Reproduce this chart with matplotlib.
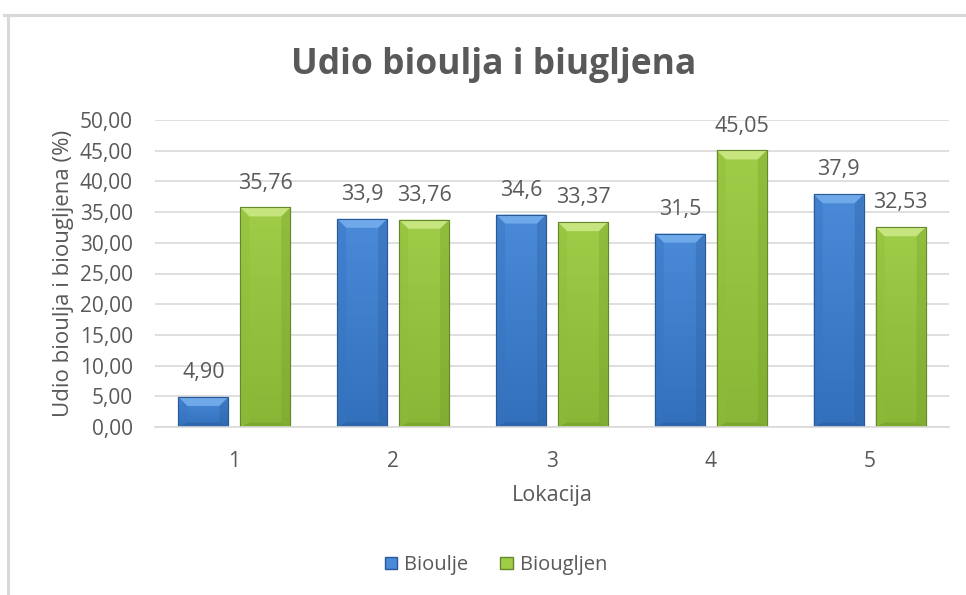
import numpy as np
import matplotlib
matplotlib.use("Agg")
import matplotlib.pyplot as plt
from matplotlib.patches import Polygon, Rectangle
from matplotlib.lines import Line2D

# Chart data
locations = ["1", "2", "3", "4", "5"]
bioulje = [4.90, 33.9, 34.6, 31.5, 37.9]
biougljen = [35.76, 33.76, 33.37, 45.05, 32.53]
bioulje_labels = ["4,90", "33,9", "34,6", "31,5", "37,9"]
biougljen_labels = ["35,76", "33,76", "33,37", "45,05", "32,53"]
y_ticks = [0, 5, 10, 15, 20, 25, 30, 35, 40, 45, 50]

plt.rcParams["font.family"] = ["Open Sans", "DejaVu Sans"]
text_color = "#595959"
grid_color = "#d9d9d9"

# colours: (top bevel, body top, body bottom, bottom bevel, side, edge)
blue = ("#6fa9ea", "#4a8ad8", "#3270bc", "#2c5f9f", "#3774c0", "#2a5a96")
green = ("#c6e57f", "#9fcd48", "#88b636", "#76a02c", "#8fbd3a", "#64882a")

fig = plt.figure(figsize=(9.66, 5.95), dpi=100)
ax = fig.add_axes([155 / 966, 1 - 427 / 595, (949 - 155) / 966, (427 - 120) / 595])

x = np.arange(len(locations))
width = 0.315
offset = 0.195

ax.set_xlim(-0.5, len(locations) - 0.5)
ax.set_ylim(0, 50)

bars_b = ax.bar(x - offset, bioulje, width, color=blue[1], edgecolor=blue[5], linewidth=0.8, zorder=2)
bars_g = ax.bar(x + offset, biougljen, width, color=green[1], edgecolor=green[5], linewidth=0.8, zorder=2)

# pixel sizes to data units for the bevel look
fig.canvas.draw()
bbox = ax.get_window_extent()
px_x = (len(locations)) / bbox.width
px_y = 50 / bbox.height
bevel = 9


def style_bar(rect, cols):
    x0, w, h = rect.get_x(), rect.get_width(), rect.get_height()
    x1 = x0 + w
    bx = bevel * px_x
    by = min(bevel * px_y, h / 3)
    by_low = by * 0.5
    # vertical gradient on the body
    grad = np.linspace(0, 1, 64).reshape(-1, 1)
    c_top = np.array(matplotlib.colors.to_rgb(cols[1]))
    c_bot = np.array(matplotlib.colors.to_rgb(cols[2]))
    img = c_top * (1 - grad[..., None]) + c_bot * grad[..., None]
    im = ax.imshow(img, extent=(x0, x1, 0, h), origin="upper", aspect="auto", zorder=2.1)
    im.set_clip_path(rect)
    # bevels
    ax.add_patch(Polygon([(x0, h), (x1, h), (x1 - bx, h - by), (x0 + bx, h - by)],
                         closed=True, facecolor=cols[0], edgecolor="none", zorder=2.2))
    ax.add_patch(Polygon([(x0, 0), (x1, 0), (x1 - bx, by_low), (x0 + bx, by_low)],
                         closed=True, facecolor=cols[3], edgecolor="none", alpha=0.6, zorder=2.2))
    ax.add_patch(Polygon([(x0, 0), (x0, h), (x0 + bx, h - by), (x0 + bx, by_low)],
                         closed=True, facecolor=cols[4], edgecolor="none", alpha=0.4, zorder=2.2))
    ax.add_patch(Polygon([(x1, 0), (x1, h), (x1 - bx, h - by), (x1 - bx, by_low)],
                         closed=True, facecolor=cols[3], edgecolor="none", alpha=0.35, zorder=2.2))
    ax.add_patch(Rectangle((x0, 0), w, h, facecolor="none", edgecolor=cols[5], linewidth=0.8, zorder=2.3))


for r in bars_b:
    style_bar(r, blue)
for r in bars_g:
    style_bar(r, green)

# data labels
for xi, v, lab in zip(x - offset, bioulje, bioulje_labels):
    ax.annotate(lab, (xi, v), xytext=(0, 10), textcoords="offset points", ha="center", va="bottom",
                fontsize=15.5, color=text_color, zorder=4)
for xi, v, lab in zip(x + offset, biougljen, biougljen_labels):
    ax.annotate(lab, (xi, v), xytext=(0, 10), textcoords="offset points", ha="center", va="bottom",
                fontsize=15.5, color=text_color, zorder=4)

ax.set_yticks(y_ticks)
ax.set_yticklabels(["{:.2f}".format(t).replace(".", ",") for t in y_ticks])
ax.set_xticks(x)
ax.set_xticklabels(locations)
ax.tick_params(axis="both", length=0, labelsize=15, colors=text_color)
ax.tick_params(axis="y", pad=16)
ax.tick_params(axis="x", pad=17)
ax.grid(axis="y", color=grid_color, linewidth=1.2, zorder=0)
ax.set_axisbelow(True)
for side in ["top", "right", "left"]:
    ax.spines[side].set_visible(False)
ax.spines["bottom"].set_color(grid_color)
ax.spines["bottom"].set_linewidth(1.2)

ax.set_xlabel("Lokacija", fontsize=15.5, color=text_color, labelpad=10)
ax.set_ylabel("Udio bioulja i biougljena (%)", fontsize=16, color=text_color, labelpad=4)

fig.text(494 / 966, 1 - 65 / 595, "Udio bioulja i biugljena", ha="center", va="center",
         fontsize=25.5, fontweight="bold", color=text_color)

# legend
handles = [Rectangle((0, 0), 1, 1, facecolor=blue[1], edgecolor=blue[5]),
           Rectangle((0, 0), 1, 1, facecolor=green[1], edgecolor=green[5])]
fig.legend(handles, ["Bioulje", "Biougljen"], loc="center", bbox_to_anchor=(496 / 966, 1 - 565 / 595),
           ncol=2, frameon=False, fontsize=14.5, labelcolor=text_color, handlelength=0.6, handleheight=0.6,
           handletextpad=0.35, columnspacing=1.6)

# chart border
fig.add_artist(Line2D([4 / 966, 1], [1 - 15 / 595, 1 - 15 / 595], color=grid_color, linewidth=2.2))
fig.add_artist(Line2D([8 / 966, 8 / 966], [0, 1 - 15 / 595], color=grid_color, linewidth=2.2))

fig.savefig("out.png", dpi=100)
